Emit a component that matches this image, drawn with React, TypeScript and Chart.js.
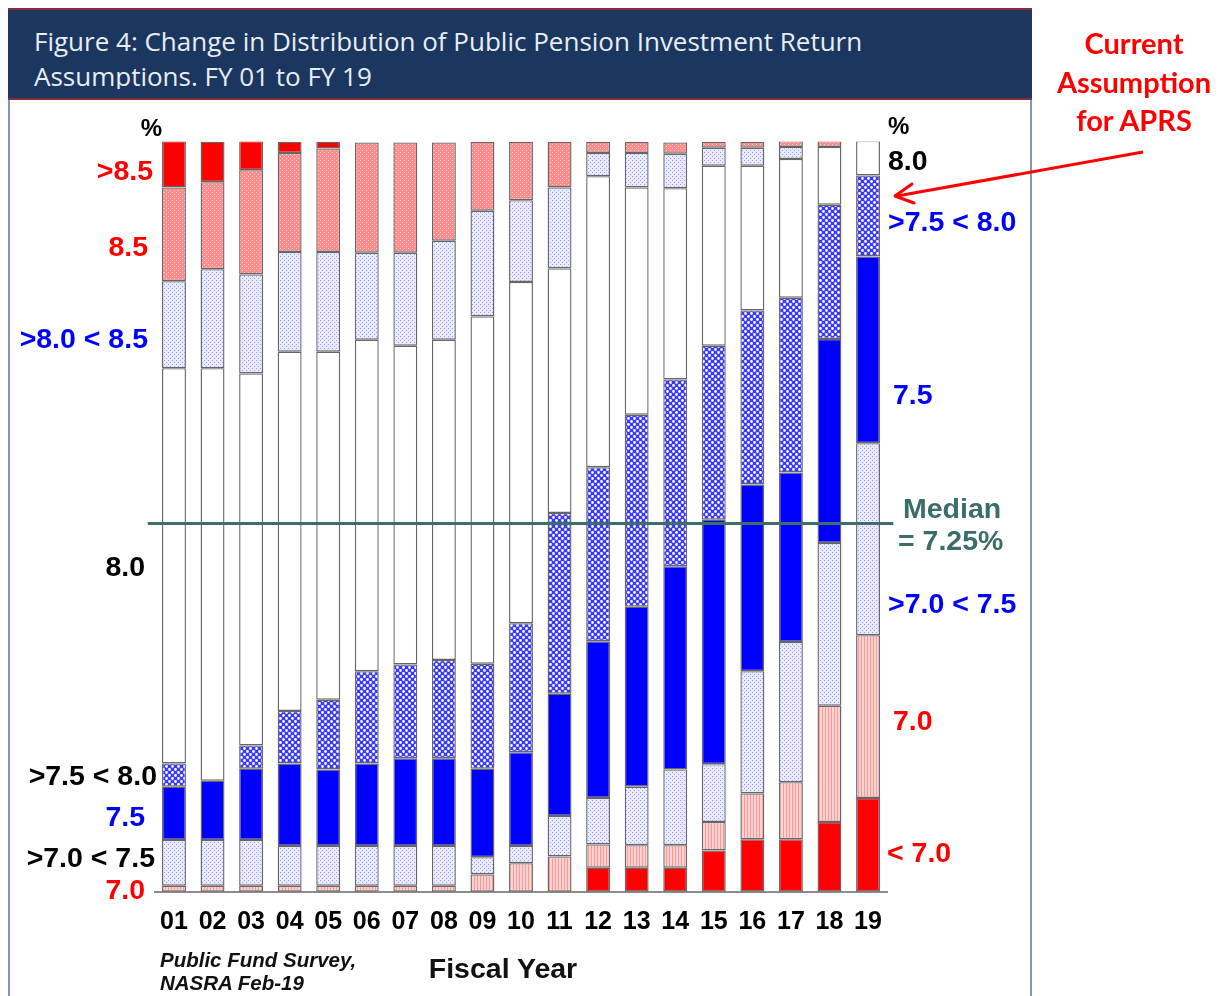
import React, { useEffect, useRef } from "react";
import { Chart, registerables } from "chart.js";

Chart.register(...registerables);

// ---- Data (percent of plans, FY01..FY19) ----
const years = ["01", "02", "03", "04", "05", "06", "07", "08", "09", "10", "11", "12", "13", "14", "15", "16", "17", "18", "19"];

const lt70 = [0, 0, 0, 0, 0, 0, 0, 0, 0, 0, 0, 3.2, 3.2, 3.2, 5.5, 7.0, 7.0, 9.3, 12.5];
const p70 = [0.8, 0.8, 0.8, 0.8, 0.8, 0.8, 0.8, 0.8, 2.3, 3.8, 4.7, 3.1, 3.0, 3.0, 3.8, 6.1, 7.6, 15.5, 21.7];
const r7075 = [6.1, 6.1, 6.1, 5.3, 5.3, 5.3, 5.3, 5.3, 2.3, 2.3, 5.4, 6.2, 7.8, 10.1, 7.7, 16.3, 18.7, 21.7, 25.6];
const p75 = [7.1, 7.9, 9.5, 11.0, 10.2, 11.0, 11.7, 11.7, 11.8, 12.5, 16.3, 20.9, 24.0, 27.1, 32.6, 24.9, 22.6, 27.2, 24.9];
const r7580 = [3.1, 0, 3.1, 7.0, 9.3, 12.3, 12.5, 13.1, 14.0, 17.2, 24.1, 23.2, 25.6, 24.9, 23.2, 23.2, 23.3, 17.9, 10.8];
const p80 = [52.7, 55.0, 49.6, 47.9, 46.4, 44.2, 42.5, 42.7, 46.3, 45.5, 32.6, 38.8, 30.3, 25.5, 24.0, 19.3, 18.5, 7.7, 4.6];
const r8085 = [11.6, 13.2, 13.2, 13.3, 13.3, 11.6, 12.4, 13.2, 14.1, 10.9, 10.8, 3.1, 4.6, 4.6, 2.4, 2.4, 1.6, 0, 0];
const p85 = [12.5, 11.6, 13.9, 13.2, 13.8, 14.7, 14.7, 13.1, 9.2, 7.8, 6.1, 1.5, 1.5, 1.5, 0.8, 0.8, 0.8, 0.8, 0];
const gt85 = [6.2, 5.4, 3.9, 1.5, 0.9, 0, 0, 0, 0, 0, 0, 0, 0, 0, 0, 0, 0, 0, 0];

const seriesNames = ["< 7.0", "7.0", ">7.0 < 7.5", "7.5", ">7.5 < 8.0", "8.0", ">8.0 < 8.5", "8.5", ">8.5"];
const seriesValues = [lt70, p70, r7075, p75, r7580, p80, r8085, p85, gt85];

const MEDIAN_PCT = 49.1;
const MEDIAN_TEXT = ["Median", "= 7.25%"];

const leftLabels: [string, string, number, number][] = [
  ["%", "#000", 162, 128],
  [">8.5", "#ff0000", 153, 170],
  ["8.5", "#ff0000", 148, 246],
  [">8.0 < 8.5", "#0000ff", 148, 338],
  ["8.0", "#000", 145, 566],
  [">7.5 < 8.0", "#000", 157, 775],
  ["7.5", "#0000ff", 145, 816],
  [">7.0 < 7.5", "#000", 155, 857],
  ["7.0", "#ff0000", 145, 889],
];

const rightLabels: [string, string, number, number][] = [
  ["%", "#000", 888, 126],
  ["8.0", "#000", 888, 160],
  [">7.5 < 8.0", "#0000ff", 888, 221],
  ["7.5", "#0000ff", 893, 394],
  [MEDIAN_TEXT[0], "#3b6d69", 903, 508],
  [MEDIAN_TEXT[1], "#3b6d69", 898, 540],
  [">7.0 < 7.5", "#0000ff", 888, 603],
  ["7.0", "#ff0000", 893, 720],
  ["< 7.0", "#ff0000", 887, 852],
];

const FONT = "'Liberation Sans', Arial, sans-serif";

function tile(size: number, bg: string, draw: (g: CanvasRenderingContext2D) => void) {
  const c = document.createElement("canvas");
  c.width = size;
  c.height = size;
  const g = c.getContext("2d")!;
  g.fillStyle = bg;
  g.fillRect(0, 0, size, size);
  draw(g);
  return c;
}

function makeFills(ctx: CanvasRenderingContext2D) {
  const pinkDense = tile(4, "#ff8c8c", (g) => {
    g.fillStyle = "rgba(255,255,255,0.55)";
    g.fillRect(0, 0, 1, 1);
    g.fillRect(2, 2, 1, 1);
  });
  const pinkStripe = tile(3, "#ffd2d2", (g) => {
    g.fillStyle = "#ff9a9a";
    g.fillRect(0, 0, 1, 3);
  });
  const lavender = tile(4, "#e9e9ff", (g) => {
    g.fillStyle = "#9a9aff";
    g.fillRect(0, 0, 1, 1);
    g.fillRect(2, 2, 1, 1);
  });
  const cross = tile(6, "#3a3aff", (g) => {
    g.fillStyle = "#ffffff";
    g.beginPath();
    g.arc(1.5, 1.5, 1.4, 0, Math.PI * 2);
    g.arc(4.5, 4.5, 1.4, 0, Math.PI * 2);
    g.fill();
  });
  const p = (c: HTMLCanvasElement) => ctx.createPattern(c, "repeat") as CanvasPattern;
  return [
    "#ff0000",
    p(pinkStripe),
    p(lavender),
    "#0000ff",
    p(cross),
    "#ffffff",
    p(lavender),
    p(pinkDense),
    "#ff0000",
  ];
}

const medianPlugin = {
  id: "medianLine",
  afterDatasetsDraw(chart: any) {
    const { ctx, chartArea, scales } = chart;
    const y = scales.y.getPixelForValue(MEDIAN_PCT);
    ctx.save();
    ctx.strokeStyle = "#3d6e6a";
    ctx.lineWidth = 3;
    ctx.beginPath();
    ctx.moveTo(chartArea.left - 7, y);
    ctx.lineTo(chartArea.right + 6, y);
    ctx.stroke();
    ctx.restore();
  },
};

function ChartCanvas() {
  const ref = useRef<HTMLCanvasElement>(null);
  useEffect(() => {
    const canvas = ref.current!;
    const ctx = canvas.getContext("2d")!;
    const fills = makeFills(ctx);
    const chart = new Chart(ctx, {
      type: "bar",
      data: {
        labels: years,
        datasets: seriesValues.map((vals, i) => ({
          label: seriesNames[i],
          data: vals.map((v) => (v === 0 ? null : v)),
          backgroundColor: fills[i] as any,
          borderColor: "#666666",
          borderWidth: 1.4,
          borderSkipped: false,
          barPercentage: 0.62,
          categoryPercentage: 1,
        })),
      },
      options: {
        responsive: false,
        animation: false,
        events: [],
        layout: { padding: { left: 154.7, right: 343.7, top: 141.7, bottom: 44.3 } },
        plugins: { legend: { display: false }, tooltip: { enabled: false }, title: { display: false } },
        scales: {
          x: {
            stacked: true,
            grid: { display: false, drawTicks: false },
            border: { display: true, color: "#8c8c8c", width: 2 },
            ticks: { color: "#000", padding: 15, font: { family: FONT, size: 25, weight: "bold" } },
          },
          y: { stacked: true, display: false, min: 0, max: 100 },
        },
      },
      plugins: [medianPlugin],
    });
    return () => chart.destroy();
  }, []);
  return (
    <canvas
      ref={ref}
      width={1231}
      height={996}
      style={{ position: "absolute", left: 0, top: 0, width: 1231, height: 996 }}
    />
  );
}

function Label({ text, color, x, y, right, size = 28.5 }: any) {
  return (
    <div
      style={{
        position: "absolute",
        left: x,
        top: y,
        transform: `translate(${right ? "-100%" : "0"}, -50%)`,
        whiteSpace: "nowrap",
        fontFamily: FONT,
        fontWeight: "bold",
        fontSize: size,
        lineHeight: 1,
        color,
      }}
    >
      {text}
    </div>
  );
}

export default function App() {
  return (
    <div style={{ position: "absolute", left: 0, top: 0, width: 1231, height: 996, overflow: "hidden", background: "#fff" }}>
      <div style={{ position: "absolute", left: 8, top: 99, width: 2, height: 897, background: "#8596b9" }} />
      <div style={{ position: "absolute", left: 1030, top: 99, width: 2, height: 897, background: "#8596b9" }} />
      <div
        style={{
          position: "absolute",
          left: 8,
          top: 8,
          width: 1024,
          height: 92,
          boxSizing: "border-box",
          background: "#1b375f",
          borderTop: "2px solid #8a2a35",
          borderBottom: "2px solid #8a2a35",
          overflow: "hidden",
        }}
      >
        <div style={{ position: "absolute", left: 0, top: 0, width: 1024, height: 79, overflow: "hidden" }}>
          <div
            style={{
              position: "absolute",
              left: 26,
              top: 14,
              fontFamily: "'Open Sans', sans-serif",
              fontSize: 26,
              lineHeight: "35px",
              color: "#e8edf3",
              whiteSpace: "nowrap",
            }}
          >
            Figure 4: Change in Distribution of Public Pension Investment Return
            <br />
            Assumptions. FY 01 to FY 19
          </div>
        </div>
      </div>
      <ChartCanvas />
      {leftLabels.map(([t, c, x, y], i) => (
        <Label key={"l" + i} text={t} color={c} x={x} y={y} right size={t === "%" ? 24 : 28.5} />
      ))}
      {rightLabels.map(([t, c, x, y], i) => (
        <Label key={"r" + i} text={t} color={c} x={x} y={y} size={t === "%" ? 24 : 28.5} />
      ))}
      <div
        style={{
          position: "absolute",
          left: 160,
          top: 948,
          fontFamily: FONT,
          fontWeight: "bold",
          fontStyle: "italic",
          fontSize: 20.5,
          lineHeight: "23px",
          color: "#111",
          whiteSpace: "nowrap",
        }}
      >
        Public Fund Survey,
        <br />
        NASRA Feb-19
      </div>
      <div
        style={{
          position: "absolute",
          left: 503,
          top: 968,
          transform: "translate(-50%, -50%)",
          fontFamily: FONT,
          fontWeight: "bold",
          fontSize: 28.5,
          lineHeight: 1,
          color: "#111",
          whiteSpace: "nowrap",
        }}
      >
        Fiscal Year
      </div>
      <div
        style={{
          position: "absolute",
          left: 1134,
          top: 24,
          transform: "translateX(-50%)",
          textAlign: "center",
          fontFamily: "Lato, 'Open Sans', sans-serif",
          fontWeight: "bold",
          fontSize: 29,
          lineHeight: "38.5px",
          color: "#ff0000",
          whiteSpace: "nowrap",
        }}
      >
        Current
        <br />
        Assumption
        <br />
        for APRS
      </div>
      <svg width={1231} height={996} style={{ position: "absolute", left: 0, top: 0, pointerEvents: "none" }}>
        <line x1={1143} y1={152} x2={897} y2={196} stroke="#ff0000" strokeWidth={3} />
        <polyline points="912,184 895,196 914,203" fill="none" stroke="#ff0000" strokeWidth={3} strokeLinecap="round" strokeLinejoin="round" />
      </svg>
    </div>
  );
}
